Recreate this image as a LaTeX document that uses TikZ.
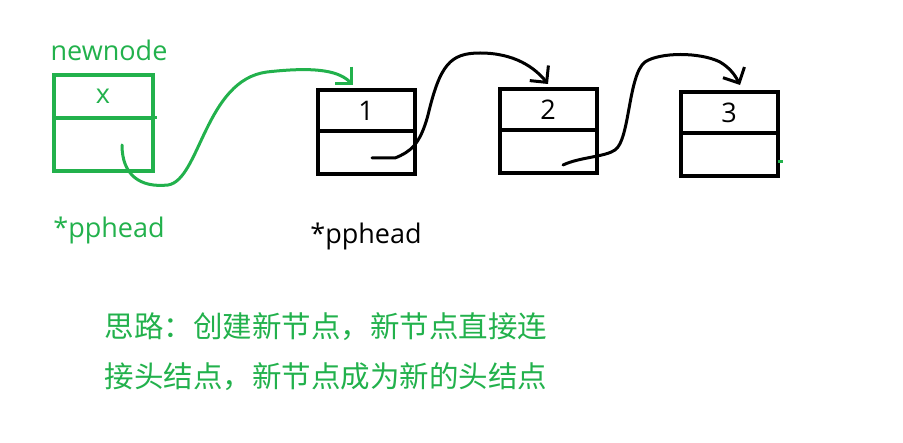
\documentclass[tikz,border=0pt]{standalone}
\usepackage{fontspec}
\setmainfont{Open Sans}
\newfontfamily\cjk{Noto Sans CJK SC}
\usetikzlibrary{positioning,arrows.meta}
\definecolor{paintgreen}{RGB}{34,177,76}

\begin{document}
\begin{tikzpicture}[x=1pt,y=-1pt,
	cell/.style={ draw, line width=4pt, inner sep=0pt, outer sep=0pt, minimum width=97pt, font=\fontsize{27}{31}\selectfont },
	txt/.style={ font=\fontsize{27}{31}\selectfont },
	note/.style={ text=paintgreen, anchor=west, font=\fontsize{29.5}{34}\selectfont\cjk },
	link/.style={ line width=3pt, line cap=round, -{Straight Barb[length=12pt,width=24pt]} },
]
\useasboundingbox (0,0) rectangle (903,443);

% new node
\node[cell, draw=paintgreen, text=paintgreen, minimum width=99pt, minimum height=43pt] at (103,96.5) (newtop) {x};
\node[cell, draw=paintgreen, minimum width=99pt, minimum height=53.5pt, below=0pt of newtop] (newbot) {};
\node[txt, text=paintgreen] at (109,50) (newname) {newnode};
\node[txt, text=paintgreen] at (109,230) (newhead) {*pphead};
\draw[paintgreen, line width=3pt] (newbot.north east) -- ++(4,0);

% old list
\foreach \i/\cx/\cy in {1/366/90, 2/548/89, 3/729/92} {
	\node[cell, minimum height=41pt] at (\cx,\cy+20.5) (top\i) {\i};
	\node[cell, minimum height=43pt, below=0pt of top\i] (bot\i) {};
}
\node[txt] at (366,236) (oldhead) {*pphead};
\draw[paintgreen, line width=3pt] (bot3.east |- 0,162) -- ++(5,0);

% pointers
\coordinate (p0) at (122,145);
\coordinate (a1) at (353,85);
\coordinate (p1) at (372,158);
\coordinate (a2) at (548,84);
\coordinate (p2) at (563,165);
\coordinate (a3) at (740,85);

\draw[link, paintgreen] (p0) .. controls (122,175) and (140,188) .. (168,185)
	.. controls (200,180) and (205,80) .. (267,72)
	.. controls (320,66) and (340,72) .. (a1);
\draw[link] (p1) -- (395,158) .. controls (410,152) and (420,145) .. (428,115)
	.. controls (440,65) and (450,53) .. (480,53)
	.. controls (515,53) and (535,68) .. (a2);
\draw[link] (p2) .. controls (580,157) and (605,157) .. (615,150)
	.. controls (630,140) and (628,75) .. (645,62)
	.. controls (660,52) and (700,52) .. (720,62)
	.. controls (730,68) and (735,75) .. (a3);

% idea
\node[note] at (101,327) (idea1) {思路：创建新节点，新节点直接连};
\node[note] at (101,377) (idea2) {接头结点，新节点成为新的头结点};

\end{tikzpicture}
\end{document}
